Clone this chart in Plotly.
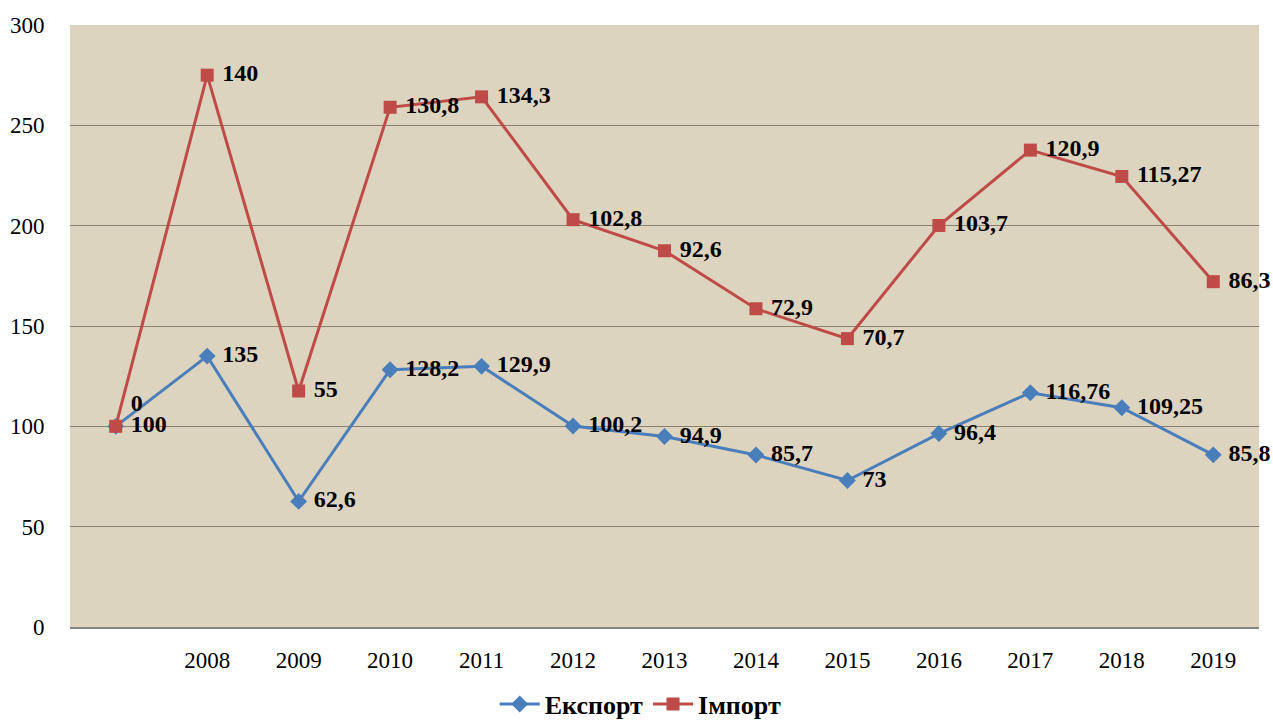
import plotly.graph_objects as go

# Years on the category axis (first position has no label)
years = ["", "2008", "2009", "2010", "2011", "2012", "2013", "2014",
         "2015", "2016", "2017", "2018", "2019"]

# Index values for each year
export_vals = [100, 135, 62.6, 128.2, 129.9, 100.2, 94.9, 85.7, 73, 96.4,
               116.76, 109.25, 85.8]
import_vals = [0, 140, 55, 130.8, 134.3, 102.8, 92.6, 72.9, 70.7, 103.7,
               120.9, 115.27, 86.3]


def fmt(v):
    # decimal comma, with a small gap before the number
    return "\u00a0" + f"{v:g}".replace(".", ",")


xpos = list(range(len(years)))
serif = "Liberation Serif, Times New Roman, serif"
label_font = dict(family=serif, size=24, color="black", weight="bold")

fig = go.Figure()

fig.add_trace(go.Scatter(
    x=xpos, y=export_vals, name="<b>Експорт</b>",
    stackgroup="s", fill="none",
    mode="lines+markers+text",
    line=dict(color="#4a7ebb", width=3),
    marker=dict(symbol="diamond", size=13, color="#4a7ebb"),
    text=[fmt(v) for v in export_vals],
    textposition="middle right",
    textfont=label_font,
    cliponaxis=False,
))

import_pos = ["top right"] + ["middle right"] * (len(import_vals) - 1)
fig.add_trace(go.Scatter(
    x=xpos, y=import_vals, name="<b>Імпорт</b>",
    stackgroup="s", fill="none",
    mode="lines+markers+text",
    line=dict(color="#be4b48", width=3),
    marker=dict(symbol="square", size=13, color="#be4b48"),
    text=[fmt(v) for v in import_vals],
    textposition=import_pos,
    textfont=label_font,
    cliponaxis=False,
))

fig.update_layout(
    width=1273, height=723,
    margin=dict(l=70, r=14, t=25, b=96, autoexpand=False),
    paper_bgcolor="white",
    plot_bgcolor="#ddd4c0",
    font=dict(family=serif, size=23, color="black"),
    showlegend=True,
    legend=dict(orientation="h", x=0.48, xanchor="center", y=-0.128,
                yanchor="middle", font=dict(family=serif, size=26, color="black"),
                itemwidth=40, traceorder="normal", bgcolor="rgba(0,0,0,0)"),
)

fig.update_xaxes(
    range=[-0.5, len(years) - 0.5],
    tickmode="array", tickvals=xpos, ticktext=years,
    showgrid=False, zeroline=False,
    showline=True, linecolor="#868686", linewidth=1.5,
    ticks="outside", ticklen=12, tickcolor="rgba(0,0,0,0)",
    tickfont=dict(family=serif, size=23),
)
fig.update_yaxes(
    range=[0, 300], dtick=50,
    showgrid=True, gridcolor="#8a8070", gridwidth=1,
    zeroline=False, showline=False,
    ticks="outside", ticklen=20, tickcolor="rgba(0,0,0,0)",
    tickfont=dict(family=serif, size=23),
)

fig.write_html("out.html")
